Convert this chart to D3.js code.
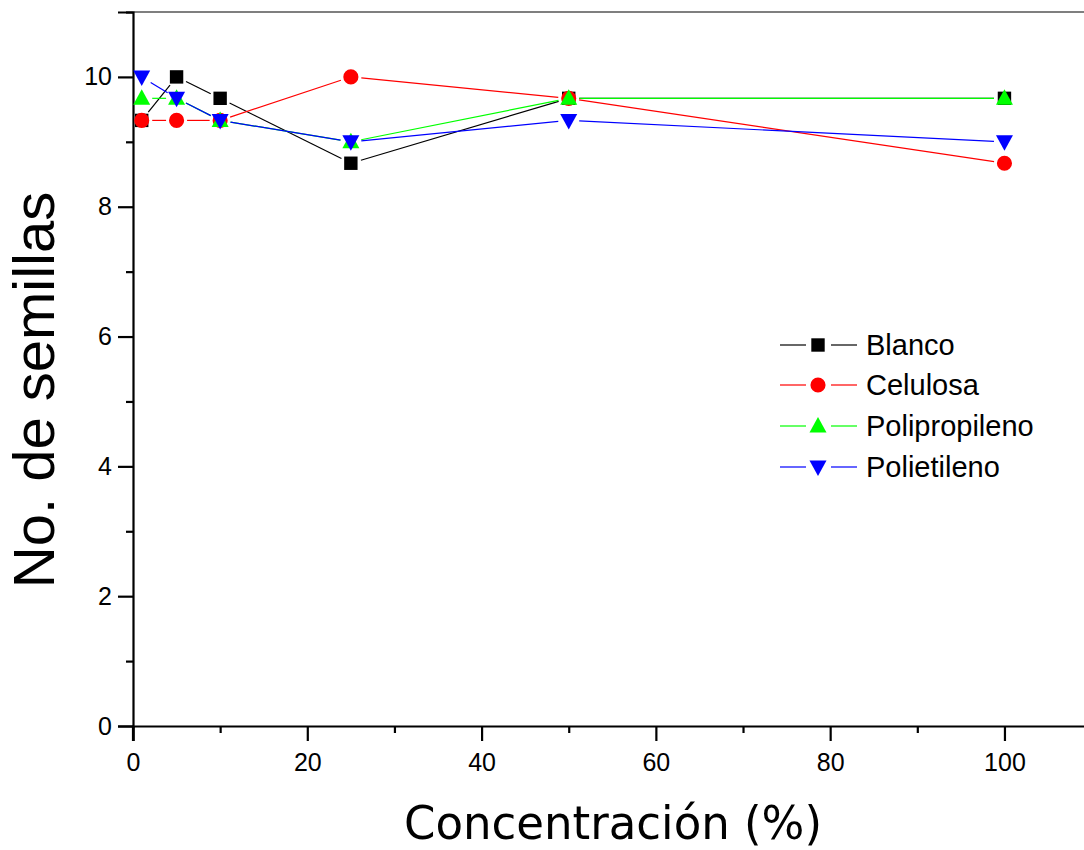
<!DOCTYPE html>
<html><head><meta charset="utf-8">
<script src="https://cdn.jsdelivr.net/npm/d3@7"></script>
<style>body{margin:0;background:#fff}svg{display:block}</style>
</head><body>
<script>
const concentrations = [1, 5, 10, 25, 50, 100];
const blanco = [9.33, 10, 9.67, 8.67, 9.67, 9.67];
const celulosa = [9.33, 9.33, 9.33, 10, 9.67, 8.67];
const polipropileno = [9.67, 9.67, 9.33, 9, 9.67, 9.67];
const polietileno = [10, 9.67, 9.33, 9, 9.33, 9];
const seriesNames = ["Blanco", "Celulosa", "Polipropileno", "Polietileno"];
const seriesColors = ["#000000", "#ff0000", "#00ff00", "#0000ff"];
const seriesSymbols = ["square", "circle", "triangle", "down"];
const xTicks = [0, 20, 40, 60, 80, 100];
const yTicks = [0, 2, 4, 6, 8, 10];

const W = 1084, H = 850;
const svg = d3.select("body").append("svg").attr("width", W).attr("height", H);
const x = d3.scaleLinear().domain([0, 110]).range([133, 1091.6]);
const y = d3.scaleLinear().domain([0, 11]).range([726, 12]);

const seriesVals = [blanco, celulosa, polipropileno, polietileno];

// top frame line
svg.append("line").attr("x1", x(0)).attr("x2", W).attr("y1", y(11)).attr("y2", y(11))
  .attr("stroke", "#555").attr("stroke-width", 1.5);

// axes
const xAxis = svg.append("g").attr("transform", `translate(0,${y(0)})`)
  .call(d3.axisBottom(x).tickValues(xTicks).tickSize(15).tickPadding(12).tickFormat(d3.format("d")));
const xMinor = svg.append("g").attr("transform", `translate(0,${y(0)})`)
  .call(d3.axisBottom(x).tickValues([10, 30, 50, 70, 90, 110]).tickSize(7).tickFormat(""));
const yAxis = svg.append("g").attr("transform", `translate(${x(0)},0)`)
  .call(d3.axisLeft(y).tickValues(yTicks).tickSize(15).tickPadding(6).tickFormat(d3.format("d")));
const yMinor = svg.append("g").attr("transform", `translate(${x(0)},0)`)
  .call(d3.axisLeft(y).tickValues([1, 3, 5, 7, 9, 11]).tickSize(7).tickFormat(""));
[xAxis, xMinor, yAxis, yMinor].forEach(g => {
  g.attr("font-size", 25).attr("font-family", "Liberation Sans, Arial, sans-serif");
  g.select(".domain").attr("stroke", "#000").attr("stroke-width", 2.2);
  g.selectAll(".tick line").attr("stroke", "#000").attr("stroke-width", 2.2);
  g.selectAll("text").attr("fill", "#000");
});
xMinor.select(".domain").remove();
yMinor.select(".domain").remove();
// extend y axis down to the x tick length
svg.append("line").attr("x1", x(0)).attr("x2", x(0)).attr("y1", y(0)).attr("y2", y(0) + 15)
  .attr("stroke", "#000").attr("stroke-width", 2.2);

function symbolPath(type) {
  if (type === "square") return "M-6.7,-6.7H6.7V6.7H-6.7Z";
  if (type === "circle") return d3.symbol(d3.symbolCircle, 180)();
  if (type === "triangle") return "M0,-9L8.5,6.5H-8.5Z";
  return "M0,9L8.5,-6.5H-8.5Z";
}

const gap = 10.5;
seriesVals.forEach((vals, si) => {
  const pts = concentrations.map((c, i) => [x(c), y(vals[i])]);
  const g = svg.append("g");
  for (let i = 0; i < pts.length - 1; i++) {
    const [x1, y1] = pts[i], [x2, y2] = pts[i + 1];
    const dx = x2 - x1, dy = y2 - y1, L = Math.hypot(dx, dy);
    if (L <= 2 * gap) continue;
    const ux = dx / L, uy = dy / L;
    g.append("line")
      .attr("x1", x1 + ux * gap).attr("y1", y1 + uy * gap)
      .attr("x2", x2 - ux * gap).attr("y2", y2 - uy * gap)
      .attr("stroke", seriesColors[si]).attr("stroke-width", 1.2);
  }
  g.selectAll("path.m").data(pts).enter().append("path")
    .attr("transform", d => `translate(${d[0]},${d[1]})`)
    .attr("d", symbolPath(seriesSymbols[si]))
    .attr("fill", seriesColors[si]);
});

// legend
const legY = [345, 385, 426, 467];
seriesNames.forEach((n, i) => {
  const g = svg.append("g").attr("transform", `translate(0,${legY[i]})`);
  g.append("line").attr("x1", 780).attr("x2", 806).attr("stroke", seriesColors[i]).attr("stroke-width", 1.2);
  g.append("line").attr("x1", 831).attr("x2", 857).attr("stroke", seriesColors[i]).attr("stroke-width", 1.2);
  g.append("path").attr("transform", "translate(818,0)")
    .attr("d", symbolPath(seriesSymbols[i])).attr("fill", seriesColors[i]);
  g.append("text").attr("x", 866).attr("y", 10).text(n)
    .attr("font-family", "Liberation Sans, Arial, sans-serif").attr("font-size", 29).attr("fill", "#000");
});

// axis titles
svg.append("text").attr("x", 613).attr("y", 839).attr("text-anchor", "middle")
  .attr("font-family", "DejaVu Sans Condensed, DejaVu Sans, sans-serif").attr("font-size", 47)
  .attr("textLength", 418).attr("lengthAdjust", "spacingAndGlyphs")
  .text("Concentración (%)");
svg.append("text").attr("transform", "translate(54,390) rotate(-90)").attr("text-anchor", "middle")
  .attr("font-family", "Liberation Sans, Arial, sans-serif").attr("font-size", 58)
  .text("No. de semillas");
</script>
</body></html>
